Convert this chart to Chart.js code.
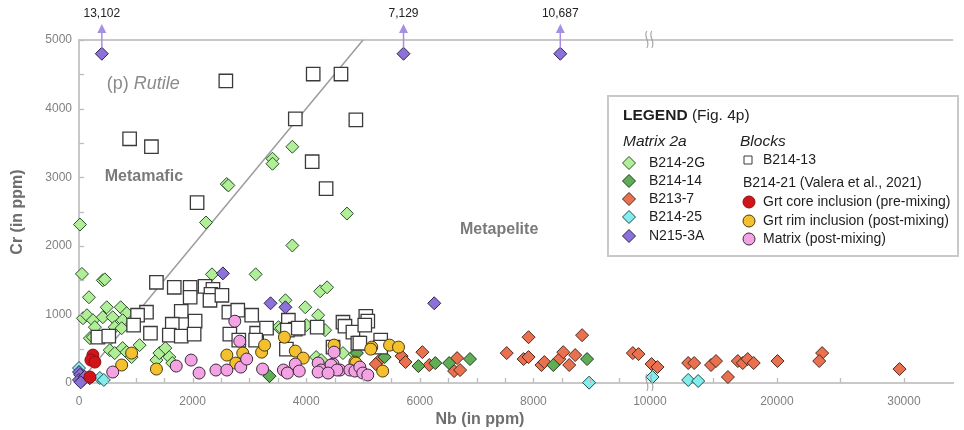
<!DOCTYPE html>
<html><head><meta charset="utf-8">
<script src="https://cdn.jsdelivr.net/npm/chart.js@4.4.1/dist/chart.umd.min.js"></script>
<style>html,body{margin:0;padding:0;background:#fff;}#wrap{width:964px;height:430px;}</style>
</head><body><div id="wrap"><canvas id="c" width="964" height="430"></canvas></div>
<script>
// ---------- DATA (Nb, Cr in ppm) ----------
const xTickLabels = [0, 2000, 4000, 6000, 8000, 10000, 20000, 30000];
const yTickStep = 1000;
const seriesNames = ['B214-2G','B214-14','B213-7','B214-25','N215-3A','B214-13',
  'Grt core inclusion (pre-mixing)','Grt rim inclusion (post-mixing)','Matrix (post-mixing)'];

const b214_2G_nb = [2600,2630,3407,3407,3756,17,52,2236,419,454,175,2341,3110,3756,4717,3634,4245,4367,3983,4210,
  70,140,245,419,489,594,734,839,769,629,751,280,192,245,542,629,769,839,1066,926,3512,3564,4001,4333,1363,1415,1520,1590,1642,4175,4263,4647,4857];
const b214_2G_cr = [2900,2880,3269,3196,3444,2310,1590,2340,1497,1511,1250,1584,1584,2005,2470,1206,1337,1395,1104,988,
  944,988,915,959,1104,959,1104,1017,915,814,799,814,654,668,479,436,509,450,552,378,814,799,843,770,334,436,509,378,291,378,334,436,421];

const b214_14_nb = [3354,5381,4892,5975,6272,6516,6883,8350,8944];
const b214_14_cr = [100,378,436,247,290,290,349,262,349];

const b213_7_nb = [6045,5678,5748,5294,5224,6167,6656,6604,6709,7530,7914,7827,7914,8141,8193,8455,8525,8630,8735,8857,
  9750,9850,10130,10595,13019,13488,14817,15206,16145,16923,17317,17706,18176,20049,23564,23332,29656];
const b213_7_cr = [450,392,305,334,276,262,363,174,189,436,668,349,378,262,305,349,450,262,407,697,
  436,421,276,232,291,291,262,320,87,320,291,349,291,320,436,320,203];

const b214_25_nb = [8980,10206,13019,13802,367,437,0];
const b214_25_cr = [5,87,44,29,73,44,218];

const n215_3A_nb = [402,5713,8473,2533,3372,3634,6254,0,20,0,70,100,190,30];
const n215_3A_cr = [13102,7129,10687,1598,1162,1104,1162,160,120,45,45,90,70,10];

const b214_13_nb = [2585,4123,4612,3808,4874,891,1275,4105,4350,2079,1363,1677,1957,1957,2219,2358,2323,2306,2516,1188,1031,1800,961,1642,2044,
  332,524,1258,1590,1800,2027,2638,2795,3040,2655,2813,3127,3302,3110,3686,3808,3669,4193,3651,4647,4682,4822,4909,5049,5084,5031,3860,4944,5311,5311,4472];
const b214_13_cr = [4403,4504,4504,3850,3836,3560,3444,3226,2833,2630,1468,1395,1395,1250,1409,1366,1293,1206,1279,1032,988,1046,843,857,901,
  668,683,726,697,683,712,1032,1061,988,712,625,726,799,625,915,785,770,814,494,886,828,741,581,973,901,843,799,581,625,523,523];

const grtCore_nb = [245,210,280,192];
const grtCore_cr = [407,334,305,87];

const grtRim_nb = [926,751,1363,2603,2760,2883,3215,3267,3616,3808,3948,4490,4857,5154,5136,5468,5625,5346,4874];
const grtRim_cr = [436,262,203,407,290,436,450,552,668,465,363,552,305,523,494,552,523,174,290];

const matrix_nb = [594,1974,1712,2114,2411,2603,2743,2830,2848,2952,3232,3599,3669,3808,3878,4210,4262,4402,4472,4490,4594,4769,4857,4210,4437,4542,4385,4944,4996,5084];
const matrix_cr = [160,334,247,145,189,189,901,610,232,349,203,189,145,276,174,291,189,160,276,450,189,189,174,160,262,189,145,232,145,116];

const diagNb = [0, 5000];
const diagCr = [0, 5000];

const regionLabels = [
  {text:'Metamafic', nb:454, cr:3008},
  {text:'Metapelite', nb:6708, cr:2238}
];

// ---------- axis break transform ----------
const BREAK = 10000, BREAK_GAP = 50, POST_SCALE = 0.2236, CR_MAX = 5000, CR_CAP = 4800;
function tx(v){ return v < BREAK ? v : BREAK + BREAK_GAP + (v - BREAK) * POST_SCALE; }
function ty(v){ return v > CR_MAX ? CR_CAP : v; }
function pts(nb, cr){ return nb.map((x,i)=>({x:tx(x), y:ty(cr[i])})); }

const FONT = '"Liberation Sans", Arial, Helvetica, sans-serif';
const styles = {
  'B214-2G': {ps:'rectRot', r:6.5, bg:'#b0ef98', bc:'#2c4f2c'},
  'B214-14': {ps:'rectRot', r:6.5, bg:'#5fae55', bc:'#203a20'},
  'B213-7':  {ps:'rectRot', r:6.5, bg:'#ea7150', bc:'#4a2a1e'},
  'B214-25': {ps:'rectRot', r:6.5, bg:'#84ecec', bc:'#1f4a4a'},
  'N215-3A': {ps:'rectRot', r:6.5, bg:'#8c72d8', bc:'#2e2450'},
  'B214-13': {ps:'rect', r:9.5, bg:'#ffffff', bc:'#3a3a3a'},
  'Grt core inclusion (pre-mixing)': {ps:'circle', r:6, bg:'#d0141a', bc:'#8a1010'},
  'Grt rim inclusion (post-mixing)': {ps:'circle', r:6, bg:'#f3c030', bc:'#4a3a10'},
  'Matrix (post-mixing)': {ps:'circle', r:6, bg:'#f3a3e3', bc:'#3a2a3a'}
};
function ds(name, nb, cr){
  const s = styles[name];
  return {label:name, data:pts(nb,cr), pointStyle:s.ps, pointRadius:s.r, backgroundColor:s.bg,
    borderColor:s.bc, borderWidth: name==='B214-13'?1.3:1, clip:false, showLine:false};
}

const datasets = [
  ds('Matrix (post-mixing)', matrix_nb, matrix_cr),
  ds('Grt rim inclusion (post-mixing)', grtRim_nb, grtRim_cr),
  ds('Grt core inclusion (pre-mixing)', grtCore_nb, grtCore_cr),
  ds('N215-3A', n215_3A_nb, n215_3A_cr),
  ds('B214-25', b214_25_nb, b214_25_cr),
  ds('B214-13', b214_13_nb, b214_13_cr),
  ds('B214-14', b214_14_nb, b214_14_cr),
  ds('B213-7', b213_7_nb, b213_7_cr),
  ds('B214-2G', b214_2G_nb, b214_2G_cr),
  {type:'line', label:'divide', data:pts(diagNb, diagCr), showLine:true, pointRadius:0,
   borderColor:'#9c9c9c', borderWidth:1.5, clip:false}
];

function drawMarker(ctx, s, x, y, r){
  ctx.save();
  ctx.fillStyle = s.bg; ctx.strokeStyle = s.bc; ctx.lineWidth = 1;
  ctx.beginPath();
  if (s.ps === 'rectRot'){ ctx.moveTo(x-r,y); ctx.lineTo(x,y-r); ctx.lineTo(x+r,y); ctx.lineTo(x,y+r); ctx.closePath(); }
  else if (s.ps === 'rect'){ ctx.rect(x-r,y-r,2*r,2*r); }
  else { ctx.arc(x,y,r,0,Math.PI*2); }
  ctx.fill(); ctx.stroke();
  ctx.restore();
}

const deco = {
  id:'deco',
  afterDatasetsDraw(chart){
    const ctx = chart.ctx, xs = chart.scales.x, ys = chart.scales.y, ca = chart.chartArea;
    ctx.save();
    ctx.strokeStyle = '#bdbdbd'; ctx.lineWidth = 1.3;
    for (let v = 500; v <= CR_MAX; v += 500){
      const py = Math.round(ys.getPixelForValue(v)) + 0.5;
      ctx.beginPath(); ctx.moveTo(ca.left, py); ctx.lineTo(ca.left+5, py); ctx.stroke();
    }
    const xt = [];
    for (let v = 500; v < BREAK; v += 500) xt.push(v);
    [15000,20000,25000,30000].forEach(v=>xt.push(v));
    xt.forEach(v=>{
      const px = Math.round(xs.getPixelForValue(tx(v))) + 0.5;
      ctx.beginPath(); ctx.moveTo(px, ca.bottom); ctx.lineTo(px, ca.bottom-5); ctx.stroke();
    });
    const bx = xs.getPixelForValue(tx(BREAK)) - 3;
    ctx.strokeStyle = '#a8a8a8'; ctx.lineWidth = 1.2;
    [ca.top, ca.bottom].forEach(yy=>{
      [0,5].forEach(d=>{
        ctx.beginPath();
        ctx.moveTo(bx+d, yy-9);
        ctx.bezierCurveTo(bx+d-4, yy-4, bx+d+4, yy+2, bx+d, yy+8);
        ctx.stroke();
      });
    });
    ctx.fillStyle = '#a58fe2'; ctx.strokeStyle = '#a58fe2'; ctx.lineWidth = 1.5;
    n215_3A_cr.forEach((c,i)=>{
      if (c <= CR_MAX) return;
      const px = xs.getPixelForValue(tx(n215_3A_nb[i]));
      const py = ys.getPixelForValue(ty(c));
      ctx.beginPath(); ctx.moveTo(px, py-6); ctx.lineTo(px, 31); ctx.stroke();
      ctx.beginPath(); ctx.moveTo(px, 24); ctx.lineTo(px-4.5, 33); ctx.lineTo(px+4.5, 33); ctx.closePath(); ctx.fill();
      ctx.fillStyle = '#222'; ctx.font = '12px '+FONT; ctx.textAlign='center'; ctx.textBaseline='middle';
      ctx.fillText(c.toLocaleString('en-US'), px, 14);
      ctx.fillStyle = '#a58fe2';
    });
    ctx.restore();
  },
  afterDraw(chart){
    const ctx = chart.ctx, xs = chart.scales.x, ys = chart.scales.y;
    ctx.save();
    ctx.textBaseline = 'middle';
    let px = xs.getPixelForValue(tx(490)), py = ys.getPixelForValue(4360);
    ctx.fillStyle = '#8a8a8a'; ctx.textAlign = 'left';
    ctx.font = '18px '+FONT; ctx.fillText('(p) ', px, py);
    const w = ctx.measureText('(p) ').width;
    ctx.font = 'italic 18px '+FONT; ctx.fillText('Rutile', px+w, py);
    ctx.fillStyle = '#7a7a7a'; ctx.font = 'bold 16px '+FONT;
    regionLabels.forEach(l=>ctx.fillText(l.text, xs.getPixelForValue(tx(l.nb)), ys.getPixelForValue(l.cr)));
    ctx.fillStyle = '#6e6e6e'; ctx.font = 'bold 16px '+FONT; ctx.textAlign='center';
    ctx.fillText('Nb (in ppm)', 480, 420);
    ctx.save(); ctx.translate(18, 212); ctx.rotate(-Math.PI/2); ctx.fillText('Cr (in ppm)', 0, 0); ctx.restore();
    ctx.fillStyle = '#fff'; ctx.fillRect(608, 96, 350, 160);
    ctx.strokeStyle = '#c9c9c9'; ctx.lineWidth = 2; ctx.strokeRect(608, 96, 350, 160);
    ctx.textAlign = 'left'; ctx.fillStyle = '#1e1e1e';
    ctx.font = 'bold 15.5px '+FONT; ctx.fillText('LEGEND', 623, 116);
    const lw = ctx.measureText('LEGEND').width;
    ctx.font = '15.5px '+FONT; ctx.fillText(' (Fig. 4p)', 623+lw, 116);
    ctx.font = 'italic 15.5px '+FONT; ctx.fillText('Matrix 2a', 623, 142); ctx.fillText('Blocks', 740, 142);
    ctx.font = '14px '+FONT;
    const rowsL = [163,181,199,217,236];
    seriesNames.slice(0,5).forEach((n,i)=>{ drawMarker(ctx, styles[n], 629, rowsL[i], 6.5); ctx.fillStyle='#1e1e1e'; ctx.fillText(n, 649, rowsL[i]); });
    drawMarker(ctx, styles['B214-13'], 748, 160, 4); ctx.fillStyle='#1e1e1e'; ctx.fillText('B214-13', 763, 160);
    ctx.fillText('B214-21 (Valera et al., 2021)', 743, 183);
    const rowsR = [202,221,239];
    seriesNames.slice(6).forEach((n,i)=>{ drawMarker(ctx, styles[n], 749, rowsR[i], 6); ctx.fillStyle='#1e1e1e'; ctx.fillText(n, 763, rowsR[i]); });
    ctx.restore();
  }
};

new Chart(document.getElementById('c'), {
  type:'scatter',
  data:{datasets},
  options:{
    responsive:false, animation:false, devicePixelRatio:1, events:[],
    layout:{padding:{top:40, right:4, left:0, bottom:0}},
    plugins:{legend:{display:false}, tooltip:{enabled:false}},
    scales:{
      x:{type:'linear', min:0, max:15390,
        afterFit:s=>{s.height=47;},
        afterBuildTicks:s=>{ s.ticks = xTickLabels.map(v=>({value:tx(v)})); },
        grid:{display:false, drawTicks:false},
        border:{color:'#c8c8c8', width:2},
        ticks:{autoSkip:false, maxRotation:0, padding:11, color:'#808080', font:{size:12, family:FONT},
          callback:(v,i)=>String(xTickLabels[i])}
      },
      y:{type:'linear', min:0, max:CR_MAX,
        afterFit:s=>{s.width=79;},
        grid:{drawTicks:false, lineWidth:2, color:c=> (c.tick && c.tick.value===CR_MAX) ? '#c8c8c8' : 'rgba(0,0,0,0)'},
        border:{color:'#c8c8c8', width:2},
        ticks:{stepSize:yTickStep, padding:7, color:'#808080', font:{size:12, family:FONT},
          callback:v=>String(v)}
      }
    }
  },
  plugins:[deco]
});
</script>
</body></html>
